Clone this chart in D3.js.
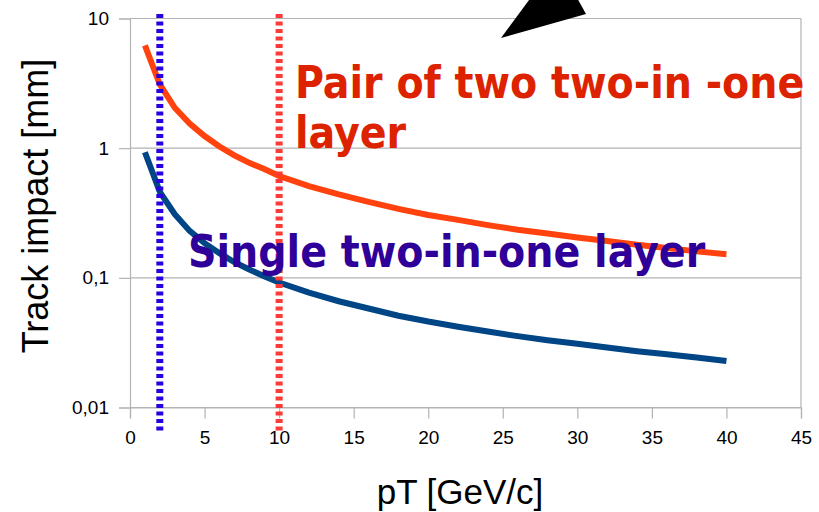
<!DOCTYPE html>
<html>
<head>
<meta charset="utf-8">
<script src="https://cdn.jsdelivr.net/npm/d3@7"></script>
<style>
  body { margin: 0; background: #fff; }
  svg { display: block; }
</style>
</head>
<body>
<div id="chart"></div>
<script>
// pT values [GeV/c] and track impact [mm]
var pT = [1, 2, 3, 4, 5, 6, 7, 8, 9, 10, 12, 14, 16, 18, 20, 22, 24, 26, 28, 30, 32, 34, 36, 38, 40];
var pairLayer = [6.2, 3.1, 2.05, 1.55, 1.24, 1.03, 0.88, 0.77, 0.69, 0.61, 0.51, 0.44, 0.385, 0.34, 0.305, 0.28, 0.255, 0.235, 0.22, 0.205, 0.192, 0.18, 0.17, 0.16, 0.152];
var singleLayer = [0.93, 0.46, 0.31, 0.23, 0.185, 0.155, 0.132, 0.116, 0.103, 0.092, 0.077, 0.066, 0.058, 0.051, 0.046, 0.042, 0.0385, 0.0355, 0.033, 0.031, 0.029, 0.0272, 0.0257, 0.0243, 0.0228];
var cutLines = [2, 10];
var xTicks = [0, 5, 10, 15, 20, 25, 30, 35, 40, 45];
var yTicks = [0.01, 0.1, 1, 10];
var yTickLabels = ["0,01", "0,1", "1", "10"];

var width = 819, height = 512;
var margin = { top: 18.5, right: 18, bottom: 104.5, left: 130 };
var plotW = width - margin.left - margin.right,
    plotH = height - margin.top - margin.bottom;

var svg = d3.select("#chart").append("svg")
    .attr("width", width)
    .attr("height", height);

var g = svg.append("g")
    .attr("transform", "translate(" + margin.left + "," + margin.top + ")");

var x = d3.scaleLinear().domain([0, 45]).range([0, plotW]);
var y = d3.scaleLog().domain([0.01, 10]).range([plotH, 0]);

// horizontal grid
g.selectAll("line.grid")
    .data(yTicks)
    .enter().append("line")
    .attr("class", "grid")
    .attr("x1", 0).attr("x2", plotW)
    .attr("y1", function(d) { return y(d); })
    .attr("y2", function(d) { return y(d); })
    .attr("stroke", "#b3b3b3")
    .attr("stroke-width", 1.2);

// right frame
g.append("line")
    .attr("x1", plotW).attr("x2", plotW)
    .attr("y1", 0).attr("y2", plotH)
    .attr("stroke", "#b3b3b3")
    .attr("stroke-width", 1.2);

// axes
var xAxis = g.append("g")
    .attr("transform", "translate(0," + plotH + ")")
    .call(d3.axisBottom(x).tickValues(xTicks).tickSize(11).tickPadding(12));
var yAxis = g.append("g")
    .call(d3.axisLeft(y).tickValues(yTicks).tickSize(11).tickPadding(10)
        .tickFormat(function(d, i) { return yTickLabels[i]; }));

[xAxis, yAxis].forEach(function(a) {
    a.select(".domain").attr("stroke", "#b3b3b3").attr("stroke-width", 1.2);
    a.selectAll(".tick line").attr("stroke", "#b3b3b3").attr("stroke-width", 1.2);
    a.selectAll(".tick text")
        .attr("fill", "#000")
        .style("font-family", "Liberation Sans, Arial, sans-serif")
        .style("font-size", "19px");
});

// curves
var line = d3.line()
    .x(function(d) { return x(d[0]); })
    .y(function(d) { return y(d[1]); });

g.append("path")
    .datum(d3.zip(pT, singleLayer))
    .attr("d", line)
    .attr("fill", "none")
    .attr("stroke", "#004586")
    .attr("stroke-width", 6);

g.append("path")
    .datum(d3.zip(pT, pairLayer))
    .attr("d", line)
    .attr("fill", "none")
    .attr("stroke", "#ff420e")
    .attr("stroke-width", 6);

// dotted pT cut lines
var cutColors = ["#2a00e0", "#ff3838"];
g.selectAll("line.cut")
    .data(cutLines)
    .enter().append("line")
    .attr("class", "cut")
    .attr("x1", function(d) { return x(d); })
    .attr("x2", function(d) { return x(d); })
    .attr("y1", -4.5)
    .attr("y2", plotH + 25)
    .attr("stroke", function(d, i) { return cutColors[i]; })
    .attr("stroke-width", 7)
    .attr("stroke-dasharray", "4,3.5");

// annotations
var annoFont = "'DejaVu Sans Condensed', 'DejaVu Sans', sans-serif";
var pairText = svg.append("text")
    .attr("x", 295)
    .attr("y", 98)
    .attr("fill", "#dd2200")
    .style("font-family", annoFont)
    .style("font-weight", "bold")
    .style("font-size", "44px");
pairText.append("tspan").attr("x", 295).text("Pair of two two-in -one");
pairText.append("tspan").attr("x", 295).attr("dy", 50).text("layer");

svg.append("text")
    .attr("x", 188)
    .attr("y", 267)
    .attr("fill", "#2e0099")
    .style("font-family", annoFont)
    .style("font-weight", "bold")
    .style("font-size", "44px")
    .text("Single two-in-one layer");

// axis titles
svg.append("text")
    .attr("x", 460)
    .attr("y", 504)
    .attr("text-anchor", "middle")
    .style("font-family", "Liberation Sans, Arial, sans-serif")
    .style("font-size", "35px")
    .text("pT [GeV/c]");

svg.append("text")
    .attr("transform", "translate(48,206) rotate(-90)")
    .attr("text-anchor", "middle")
    .style("font-family", "Liberation Sans, Arial, sans-serif")
    .style("font-size", "36px")
    .text("Track impact [mm]");

// arrow head coming in from the top
svg.append("polygon")
    .attr("points", "501,38 586,14 576,-4 532,-4")
    .attr("fill", "#000");
</script>
</body>
</html>
